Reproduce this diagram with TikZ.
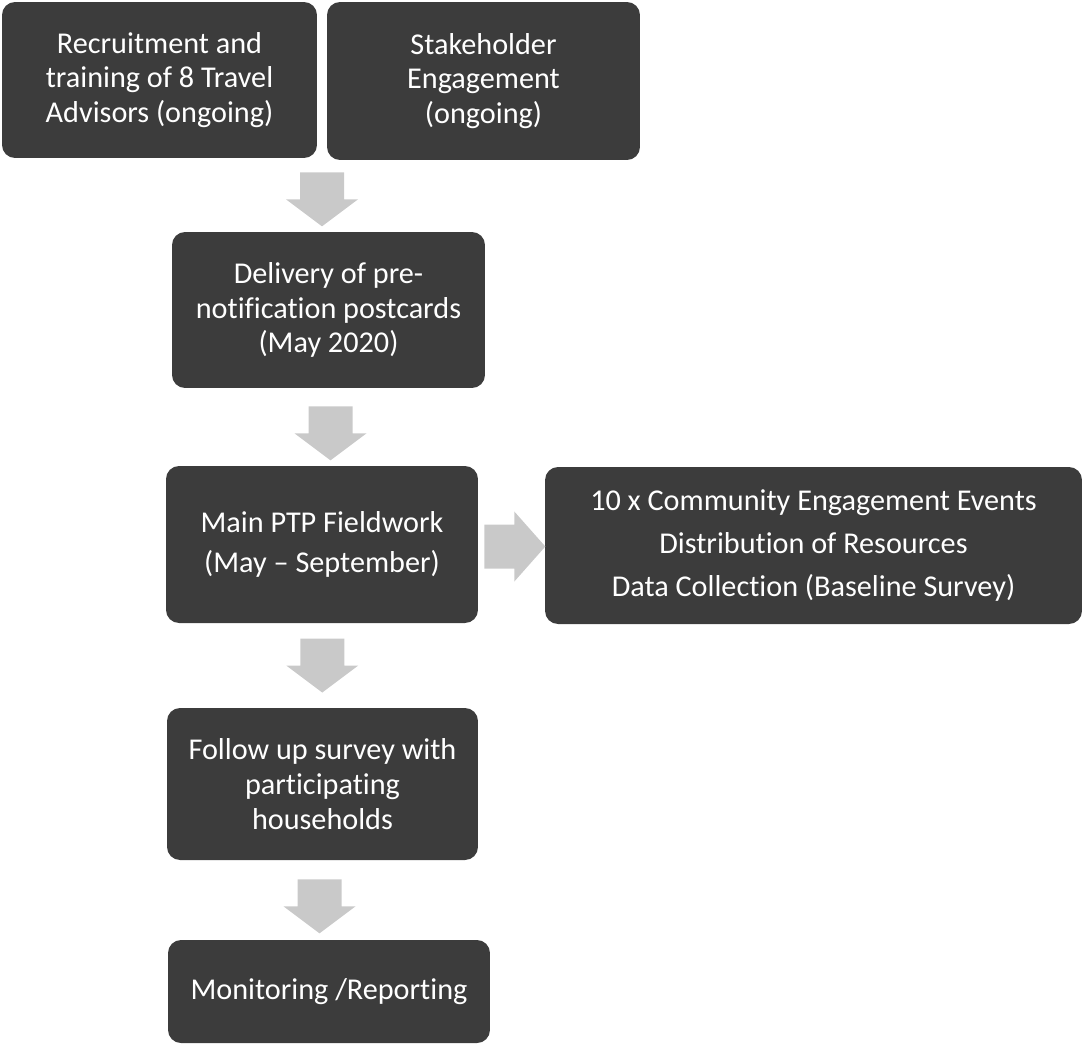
\documentclass[tikz,border=0pt]{standalone}
\usepackage{fontspec}
\setmainfont{Carlito}[Ligatures={TeX,NoCommon}]
\usetikzlibrary{calc}
\definecolor{boxgray}{HTML}{3C3C3C}
\definecolor{arrowgray}{HTML}{C9C9C9}
\tikzset{
  stage/.style={rectangle, rounded corners=0.26cm, fill=boxgray, text=white, align=center, inner sep=0pt, font=\fontsize{17.2}{19.8}\selectfont},
  pics/downblock/.style={code={\fill[arrowgray] (-22,-27) -- (22,-27) -- (22,0) -- (36,0) -- (0,27) -- (-36,0) -- (-22,0) -- cycle;}},
  pics/rightblock/.style={code={\fill[arrowgray] (-30,-22) -- (0,-22) -- (0,-35) -- (31,0) -- (0,35) -- (0,22) -- (-30,22) -- cycle;}}
}
\begin{document}
\begin{tikzpicture}[x=0.02cm, y=-0.02cm]
	\useasboundingbox (0,0) rectangle (1084,1046);
	% boxes
	\node[stage, minimum width=6.3cm, minimum height=3.12cm] (recruit) at (159.5,80) {Recruitment and\\training of 8 Travel\\Advisors (ongoing)};
	\node[stage, minimum width=6.26cm, minimum height=3.16cm] (stake) at (483.5,81) {Stakeholder\\Engagement\\(ongoing)};
	\node[stage, minimum width=6.26cm, minimum height=3.12cm] (deliv) at (328.5,310) {Delivery of pre-\\notification postcards\\(May 2020)};
	\node[stage, minimum width=6.24cm, minimum height=3.14cm, font=\fontsize{17.2}{23}\selectfont] (field) at (322,544.5) {Main PTP Fieldwork\\(May \textendash{} September)};
	\node[stage, minimum width=10.74cm, minimum height=3.14cm, font=\fontsize{17.2}{24.5}\selectfont] (events) at (813.5,545.5) {10 x Community Engagement Events\\Distribution of Resources\\Data Collection (Baseline Survey)};
	\node[stage, minimum width=6.22cm, minimum height=3.04cm] (follow) at (322.5,784) {Follow up survey with\\participating\\households};
	\node[stage, minimum width=6.44cm, minimum height=2.06cm] (monitor) at (329,991.5) {Monitoring /Reporting};
	% block arrows
	\pic at ($(recruit.south east)!0.5!(stake.south west)+(0,40)$) {downblock};
	\pic at ($(deliv.south)+(2,45)$) {downblock};
	\pic at ($(field.south)!0.5!(follow.north)$) {downblock};
	\pic at ($(follow.south)+(-3,46)$) {downblock};
	\pic at ($(field.east)+(36,2)$) {rightblock};
\end{tikzpicture}
\end{document}
